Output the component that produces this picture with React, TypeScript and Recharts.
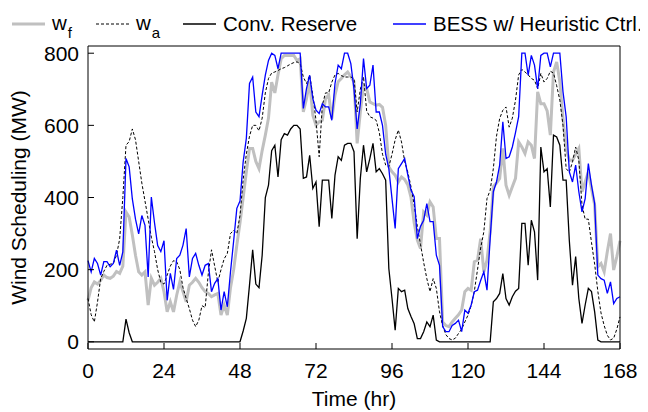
import React from 'react';
import { LineChart, Line, XAxis, YAxis, Legend } from 'recharts';

const hours: number[] = Array.from({ length: 169 }, (_, i) => i);

// w_f : wind forecast (MW)
const windForecast = [
  115, 150, 166, 160, 170, 185, 178, 176, 182, 195,
  190, 210, 360, 346, 296, 240, 194, 185, 194, 102,
  176, 157, 165, 176, 139, 83, 111, 83, 129, 166,
  139, 111, 157, 165, 176, 165, 150, 139, 134, 125,
  130, 134, 74, 102, 74, 150, 200, 268, 330, 400,
  471, 536, 536, 500, 480, 530, 573, 620, 720, 690,
  740, 785, 794, 794, 794, 794, 780, 785, 637, 674,
  721, 628, 600, 610, 614, 674, 684, 619, 684, 721,
  730, 740, 748, 735, 721, 550, 637, 711, 702, 665,
  660, 656, 658, 650, 600, 485, 471, 462, 443, 457,
  450, 435, 400, 330, 282, 259, 360, 351, 388, 374,
  286, 286, 55, 45, 42, 55, 65, 75, 88, 139,
  148, 143, 222, 226, 286, 194, 226, 305, 430, 440,
  453, 536, 434, 406, 430, 453, 554, 540, 522, 554,
  545, 508, 693, 660, 660, 640, 573, 748, 776, 721,
  619, 536, 503, 503, 520, 536, 416, 443, 471, 425,
  379, 208, 217, 194, 250, 300, 199, 236, 280,
];

// w_a : actual wind (MW)
const windActual = [
  120, 75, 55, 110, 175, 195, 212, 215, 217, 240,
  285, 400, 545, 555, 590, 560, 500, 440, 390, 340,
  290, 250, 200, 165, 160, 185, 210, 225, 222, 200,
  150, 120, 92, 60, 42, 60, 100, 95, 190, 255,
  210, 165, 200, 230, 245, 300, 309, 300, 350, 450,
  520, 570, 600, 600, 585, 620, 690, 730, 745, 748,
  752, 757, 760, 765, 770, 774, 776, 771, 734, 716,
  739, 684, 614, 513, 656, 690, 690, 720, 740, 744,
  738, 734, 734, 734, 730, 637, 700, 735, 640, 624,
  620, 614, 580, 520, 490, 485, 520, 560, 587, 554,
  500, 470, 430, 380, 320, 270, 220, 175, 139, 175,
  148, 83, 45, 20, 9, 5, 10, 23, 35, 55,
  74, 100, 140, 200, 260, 305, 397, 420, 480, 570,
  619, 642, 651, 595, 620, 670, 740, 755, 748, 740,
  730, 725, 702, 744, 720, 730, 750, 745, 710, 670,
  600, 480, 470, 499, 540, 503, 379, 340, 340, 275,
  215, 140, 80, 45, 18, 5, 10, 35, 69,
];

// Conventional reserve (MW)
const convReserve = [
  0, 0, 0, 0, 0, 0, 0, 0, 0, 0,
  0, 0, 63, 25, 0, 0, 0, 0, 0, 0,
  0, 0, 0, 0, 0, 0, 0, 0, 0, 0,
  0, 0, 0, 0, 0, 0, 0, 0, 0, 0,
  0, 0, 0, 0, 0, 0, 0, 0, 0, 30,
  65, 157, 255, 160, 150, 240, 400, 434, 530, 545,
  457, 560, 577, 573, 590, 600, 600, 590, 453, 457,
  517, 425, 443, 319, 448, 448, 448, 342, 462, 513,
  503, 545, 550, 550, 527, 286, 453, 545, 471, 508,
  550, 471, 480, 466, 448, 203, 120, 32, 148, 139,
  143, 92, 70, 50, 9, 9, 28, 55, 42, 74,
  5, 0, 0, 0, 0, 0, 0, 0, 0, 0,
  0, 0, 0, 0, 0, 0, 0, 0, 111, 120,
  134, 189, 120, 102, 125, 140, 148, 328, 328, 212,
  337, 305, 171, 540, 471, 480, 374, 573, 568, 545,
  448, 448, 280, 157, 236, 120, 51, 102, 148, 139,
  83, 5, 0, 0, 0, 0, 0, 0, 0,
];

// BESS w/ heuristic control (MW)
const bessHeuristic = [
  225, 194, 231, 217, 185, 222, 222, 208, 217, 254,
  212, 249, 508, 485, 396, 340, 299, 350, 323, 180,
  401, 330, 267, 250, 280, 115, 190, 145, 231, 240,
  268, 314, 180, 231, 245, 212, 185, 212, 217, 139,
  162, 175, 88, 139, 97, 194, 280, 370, 390, 499,
  564, 716, 734, 637, 624, 684, 739, 780, 800, 794,
  757, 800, 800, 800, 800, 800, 800, 800, 647, 702,
  739, 674, 642, 633, 660, 651, 651, 614, 716, 767,
  757, 800, 800, 771, 700, 590, 660, 785, 702, 711,
  767, 637, 637, 600, 520, 480, 397, 314, 480, 494,
  508, 462, 420, 402, 286, 320, 337, 383, 333, 333,
  240, 212, 42, 28, 28, 45, 51, 60, 28, 88,
  79, 102, 139, 143, 170, 194, 143, 286, 416, 443,
  490, 610, 508, 513, 540, 580, 624, 800, 800, 739,
  794, 767, 702, 794, 800, 800, 762, 800, 800, 800,
  693, 624, 471, 443, 490, 416, 360, 397, 494, 434,
  383, 185, 175, 171, 134, 166, 106, 120, 125,
];

const xTicks = [0, 24, 48, 72, 96, 120, 144, 168];
const yTicks = [0, 200, 400, 600, 800];

const seriesNames = {
  wf: { main: 'w', sub: 'f' },
  wa: { main: 'w', sub: 'a' },
  reserve: { main: 'Conv. Reserve', sub: '' },
  bess: { main: 'BESS w/ Heuristic Ctrl.', sub: '' },
};

const data = hours.map((t, i) => ({
  t,
  wf: windForecast[i],
  wa: windActual[i],
  reserve: convReserve[i],
  bess: bessHeuristic[i],
}));

const FONT = '"Liberation Sans", Arial, Helvetica, sans-serif';
const FS = 21;
const LEGEND_FS = 20.5;

const legendStyle: Record<string, { left: number; stroke: string; width: number; dash?: string }> = {
  wf: { left: 4, stroke: '#c0c0c0', width: 3 },
  wa: { left: 88, stroke: '#000', width: 1, dash: '3 2' },
  reserve: { left: 175, stroke: '#000', width: 1.3 },
  bess: { left: 385, stroke: '#0000ff', width: 1.3 },
};

function renderLegend() {
  return (
    <div style={{ position: 'relative', height: 30, width: 640, fontFamily: FONT, fontSize: LEGEND_FS, color: '#000' }}>
      {Object.keys(seriesNames).map((k) => {
        const s = legendStyle[k];
        const n = (seriesNames as any)[k];
        return (
          <div key={k} style={{ position: 'absolute', left: s.left, top: 3, height: 26, display: 'flex', alignItems: 'center', whiteSpace: 'nowrap' }}>
            <svg width={33} height={8} style={{ display: 'block' }}>
              <line x1={0} y1={4} x2={33} y2={4} stroke={s.stroke} strokeWidth={s.width} strokeDasharray={s.dash} />
            </svg>
            <span style={{ marginLeft: 7, lineHeight: '26px' }}>
              {n.main}
              {n.sub ? <span style={{ fontSize: 15, position: 'relative', top: 8, marginLeft: 1 }}>{n.sub}</span> : null}
            </span>
          </div>
        );
      })}
    </div>
  );
}

const XLabel = (props: any) => {
  const vb = props.viewBox || {};
  return (
    <text x={vb.x + vb.width / 2} y={vb.y + 57} textAnchor="middle" fontFamily={FONT} fontSize={FS} fill="#000">
      Time (hr)
    </text>
  );
};

const YLabel = (props: any) => {
  const vb = props.viewBox || {};
  const cx = 18;
  const cy = vb.y + vb.height / 2;
  return (
    <text x={cx} y={cy} transform={`rotate(-90, ${cx}, ${cy})`} textAnchor="middle" fontFamily={FONT} fontSize={FS} fill="#000">
      Wind Scheduling (MW)
    </text>
  );
};

const tickStyle = { fontSize: FS, fill: '#000', fontFamily: FONT };

export default function App() {
  return (
    <LineChart width={640} height={404} data={data} margin={{ top: 0, right: 0, bottom: 0, left: 0 }}>
      <Legend verticalAlign="top" align="left" content={renderLegend} wrapperStyle={{ top: 0, left: 0 }} />
      <XAxis
        xAxisId="b"
        dataKey="t"
        type="number"
        domain={[0, 168]}
        ticks={xTicks}
        height={63}
        tickSize={-6}
        tickMargin={20}
        tick={tickStyle}
        axisLine={{ stroke: '#000' }}
        tickLine={{ stroke: '#000' }}
        label={<XLabel />}
      />
      <XAxis
        xAxisId="top"
        orientation="top"
        dataKey="t"
        type="number"
        domain={[0, 168]}
        ticks={xTicks}
        height={8}
        tickSize={-6}
        tick={false}
        axisLine={{ stroke: '#000' }}
        tickLine={{ stroke: '#000' }}
      />
      <YAxis
        yAxisId="l"
        type="number"
        domain={[-20, 820]}
        ticks={yTicks}
        width={80}
        tickSize={-6}
        tickMargin={15}
        tick={tickStyle}
        axisLine={{ stroke: '#000' }}
        tickLine={{ stroke: '#000' }}
        label={<YLabel />}
      />
      <YAxis
        yAxisId="r"
        orientation="right"
        type="number"
        domain={[-20, 820]}
        ticks={yTicks}
        width={28}
        tickSize={-6}
        tick={false}
        axisLine={{ stroke: '#000' }}
        tickLine={{ stroke: '#000' }}
      />
      <Line xAxisId="b" yAxisId="l" type="linear" dataKey="wf" name="wf" stroke="#c0c0c0" strokeWidth={3} dot={false} isAnimationActive={false} />
      <Line xAxisId="b" yAxisId="l" type="linear" dataKey="wa" name="wa" stroke="#000" strokeWidth={1} strokeDasharray="3 2" dot={false} isAnimationActive={false} />
      <Line xAxisId="b" yAxisId="l" type="linear" dataKey="reserve" name="reserve" stroke="#000" strokeWidth={1.3} dot={false} isAnimationActive={false} />
      <Line xAxisId="b" yAxisId="l" type="linear" dataKey="bess" name="bess" stroke="#0000ff" strokeWidth={1.3} dot={false} isAnimationActive={false} />
    </LineChart>
  );
}
